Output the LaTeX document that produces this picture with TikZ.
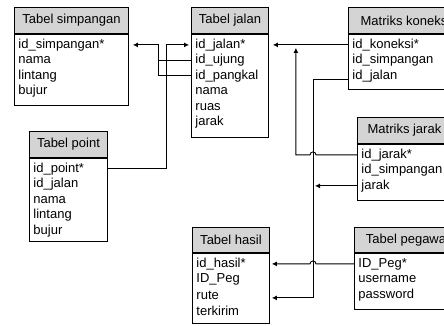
\documentclass[tikz,border=0pt]{standalone}
\usepackage{fontspec}
\setmainfont{Liberation Sans}
\usetikzlibrary{positioning,arrows.meta,calc}
\definecolor{headgray}{RGB}{212,212,212}
\tikzset{
  head/.style={draw, fill=headgray, anchor=north west, minimum height=26pt, inner sep=0pt,
    font=\fontsize{13}{15}\selectfont},
  body/.style={draw, fill=white, inner sep=0pt},
  row/.style={anchor=west, inner xsep=4pt, inner ysep=0pt, font=\fontsize{13}{15}\selectfont},
  fk/.style={-{Latex[length=5pt,width=5pt]}}
}
\begin{document}
\begin{tikzpicture}[x=1pt,y=-1pt,line width=0.9pt]
  \useasboundingbox (0,0) rectangle (444,325);
  \clip (0,0) rectangle (444,325);
  % tables
  \node[head, minimum width=114pt] (simp) at (14,7) {Tabel simpangan};
  \node[body, minimum width=114pt, minimum height=71pt, below=0pt of simp] (simpb) {};
  \foreach \f [count=\i] in {id\_simpangan*, nama, lintang, bujur}
    \node[row] (simp\i) at ($(simpb.north west)+(0,{11+15.5*(\i-1)})$) {\f};

  \node[head, minimum width=77pt] (jln) at (191,7) {Tabel jalan};
  \node[body, minimum width=77pt, minimum height=103pt, below=0pt of jln] (jlnb) {};
  \foreach \f [count=\i] in {id\_jalan*, id\_ujung, id\_pangkal, nama, ruas, jarak}
    \node[row] (jln\i) at ($(jlnb.north west)+(0,{11+15.5*(\i-1)})$) {\f};

  \node[head, minimum width=114pt] (kon) at (348,7) {Matriks koneksi};
  \node[body, minimum width=114pt, minimum height=55pt, below=0pt of kon] (konb) {};
  \foreach \f [count=\i] in {id\_koneksi*, id\_simpangan, id\_jalan}
    \node[row] (kon\i) at ($(konb.north west)+(0,{11+15.5*(\i-1)})$) {\f};

  \node[head, minimum width=78pt] (pnt) at (29,131) {Tabel point};
  \node[body, minimum width=78pt, minimum height=83pt, below=0pt of pnt] (pntb) {};
  \foreach \f [count=\i] in {id\_point*, id\_jalan, nama, lintang, bujur}
    \node[row] (pnt\i) at ($(pntb.north west)+(0,{11+15.5*(\i-1)})$) {\f};

  \node[head, minimum width=94pt] (jrk) at (357,117) {Matriks jarak};
  \node[body, minimum width=94pt, minimum height=56pt, below=0pt of jrk] (jrkb) {};
  \foreach \f [count=\i] in {id\_jarak*, id\_simpangan, jarak}
    \node[row] (jrk\i) at ($(jrkb.north west)+(0,{11+15.5*(\i-1)})$) {\f};

  \node[head, minimum width=77pt, minimum height=25pt] (hsl) at (192,227) {Tabel hasil};
  \node[body, minimum width=77pt, minimum height=70pt, below=0pt of hsl] (hslb) {};
  \foreach \f [count=\i] in {id\_hasil*, ID\_Peg, rute, terkirim}
    \node[row] (hsl\i) at ($(hslb.north west)+(0,{11+15.5*(\i-1)})$) {\f};

  \node[head, minimum width=106pt, minimum height=25pt] (peg) at (354,227) {Tabel pegawai};
  \node[body, minimum width=106pt, minimum height=56pt, below=0pt of peg] (pegb) {};
  \foreach \f [count=\i] in {ID\_Peg*, username, password}
    \node[row] (peg\i) at ($(pegb.north west)+(0,{11+15.5*(\i-1)})$) {\f};

  % junction points
  \coordinate (jA) at ($(simp1 -| simpb.east)+(30,0)$);
  \coordinate (jB) at ($(jln1 -| jlnb.west)+(-25,0)$);
  \coordinate (jC) at ($(jln1 -| jlnb.east)+(27,0)$);
  \coordinate (jD) at ($(kon3 -| konb.west)+(-35,4)$);

  % relations
  \draw[fk] (jln3 -| jlnb.west) -| (jA) -- ($(simp1 -| simpb.east)+(4,0)$);
  \draw (jln2 -| jlnb.west) -- (jln2 -| jA);
  \draw[fk] (pnt1 -| pntb.east) -| (jB) -- ($(jln1 -| jlnb.west)+(-2,0)$);
  \draw[fk] (kon1 -| konb.west) -- ($(jln1 -| jlnb.east)+(4,0)$);
  \draw[fk] (jrk1 -| jrkb.west) -- ($(jrk1 -| jD)+(3,0)$) arc[start angle=0, end angle=180, radius=3pt]
    -- (jrk1 -| jC) -- ($(jln1 -| jC)+(0,3)$);
  \draw[fk] (jD -| konb.west) -- (jD) |- ($(hsl3 -| hslb.east)+(2,3)$);
  \draw[fk] (jrk3 -| jrkb.west) -- ($(jrk3 -| jD)+(2,0)$);
  \draw[fk] (peg1 -| pegb.west) -- ($(peg1 -| jD)+(3,0)$) arc[start angle=0, end angle=180, radius=3pt]
    -- ($(hsl1 -| hslb.east)+(2,0)$);
\end{tikzpicture}
\end{document}
